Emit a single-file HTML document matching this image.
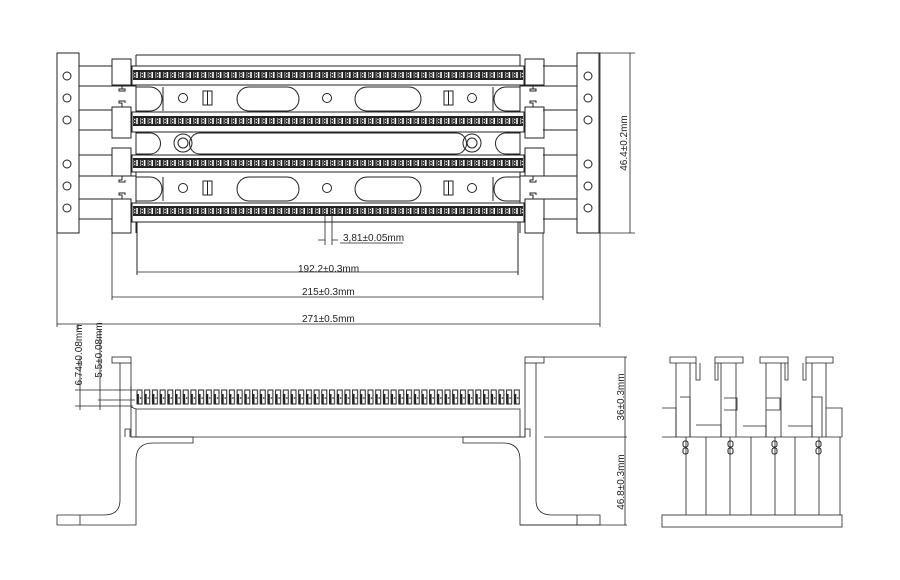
<!DOCTYPE html>
<html><head><meta charset="utf-8"><style>
html,body{margin:0;padding:0;background:#fff;}
svg{display:block;font-family:"Liberation Sans",sans-serif;}
</style></head><body>
<svg width="900" height="580" viewBox="0 0 900 580" xmlns="http://www.w3.org/2000/svg">
<defs>
<pattern id="teeth" x="0" y="0" width="7.6" height="10" patternUnits="userSpaceOnUse">
<rect width="7.6" height="10" fill="#fff"/>
<rect x="0" y="0" width="7.6" height="2" fill="#222"/>
<rect x="0" y="8" width="7.6" height="2" fill="#222"/>
<rect x="1" y="0" width="2.4" height="10" fill="#222"/>
<circle cx="5.5" cy="3.5" r="1.2" fill="none" stroke="#222" stroke-width="1"/>
<circle cx="5.5" cy="6.5" r="1.2" fill="none" stroke="#222" stroke-width="1"/>
</pattern>
<pattern id="steeth" x="0" y="0" width="7.7" height="20" patternUnits="userSpaceOnUse">
<rect width="7.7" height="20" fill="#fff"/>
<rect x="1" y="2" width="5" height="14" fill="none" stroke="#222" stroke-width="1"/>
<rect x="1" y="6" width="2" height="10" fill="#222"/>
<circle cx="4.5" cy="10" r="0.8" fill="#222"/>
</pattern>
</defs>
<g fill="none" stroke="#222" stroke-width="1">
<!-- TOP VIEW -->
<rect x="57" y="53" width="22" height="180"/>
<rect x="577" y="53" width="22" height="180"/>
<g>
<circle cx="67" cy="76" r="4"/><circle cx="67" cy="98" r="4"/><circle cx="67" cy="120" r="4"/>
<circle cx="67" cy="164" r="4"/><circle cx="67" cy="186" r="4"/><circle cx="67" cy="208" r="4"/>
<circle cx="588" cy="76" r="4"/><circle cx="588" cy="98" r="4"/><circle cx="588" cy="120" r="4"/>
<circle cx="588" cy="164" r="4"/><circle cx="588" cy="186" r="4"/><circle cx="588" cy="208" r="4"/>
</g>
<path d="M79 66H112M79 86H136M79 110H112M79 130H112M79 155H112M79 176H136M79 199H112M79 219H112"/>
<path d="M577 66H543M577 86H520M577 110H543M577 130H543M577 155H543M577 176H520M577 199H543M577 219H543"/>
<rect x="112" y="59" width="19" height="26"/><rect x="112" y="107" width="19" height="31"/>
<rect x="112" y="148" width="19" height="28"/><rect x="112" y="199" width="19" height="34"/>
<rect x="525" y="59" width="19" height="26"/><rect x="525" y="107" width="19" height="31"/>
<rect x="525" y="148" width="19" height="28"/><rect x="525" y="199" width="19" height="34"/>
<path d="M122 85v4h-3v2h6v-2h-3M122 107v-4h-3v-2h6v2M122 176v4h-3v2h6v-2M122 199v-4h-3v-2h6v2"/>
<path d="M533 85v4h-3v2h6v-2h-3M533 107v-4h-3v-2h6v2M533 176v4h-3v2h6v-2M533 199v-4h-3v-2h6v2"/>
<path d="M136 55H520V66M136 55V66"/>
<rect x="132" y="66" width="392" height="19"/>
<rect x="132" y="112" width="392" height="20"/>
<rect x="132" y="155" width="392" height="17"/>
<rect x="132" y="203" width="392" height="19"/>
<path d="M136 85V112M520 85V112M136 132V155M520 132V155M136 172V203M520 172V203"/>
<path d="M136 222V233M520 222V233M137 222V275M518 222V275"/>
<path d="M136 87h14a12 12 0 0 1 0 24h-14"/><path d="M163 87V111M493 87V111"/>
<path d="M520 87h-14a12 12 0 0 0 0 24h14"/>
<circle cx="183" cy="98" r="4.5"/><rect x="203" y="91" width="9" height="14"/><path d="M207.5 91v14"/>
<rect x="237" y="87" width="62" height="24" rx="12"/><circle cx="327" cy="98" r="4.5"/>
<rect x="355" y="87" width="66" height="24" rx="12"/>
<rect x="444" y="91" width="9" height="14"/><path d="M448.5 91v14"/><circle cx="472" cy="98" r="4.5"/>
<path d="M136 177h14a12 12 0 0 1 0 24h-14"/><path d="M163 177V201M493 177V201"/>
<path d="M520 177h-14a12 12 0 0 0 0 24h14"/>
<circle cx="183" cy="188" r="4.5"/><rect x="203" y="181" width="9" height="14"/><path d="M207.5 181v14"/>
<rect x="237" y="177" width="62" height="24" rx="12"/><circle cx="327" cy="188" r="4.5"/>
<rect x="355" y="177" width="66" height="24" rx="12"/>
<rect x="444" y="181" width="9" height="14"/><path d="M448.5 181v14"/><circle cx="472" cy="188" r="4.5"/>
<path d="M136 133h14a10 10 0 0 1 0 21h-14"/><path d="M520 133h-14a10 10 0 0 0 0 21h14"/>
<circle cx="183" cy="143" r="9"/><circle cx="183" cy="143" r="5"/>
<circle cx="472" cy="143" r="9"/><circle cx="472" cy="143" r="5"/>
<path d="M200 133a10 10 0 0 0 0 21M456 133a10 10 0 0 1 0 21M200 133H456M200 154H456"/>
</g>
<g transform="translate(0,70)"><rect x="133" y="0" width="390" height="10" fill="url(#teeth)"/></g>
<g transform="translate(0,116)"><rect x="133" y="0" width="390" height="10" fill="url(#teeth)"/></g>
<g transform="translate(0,158)"><rect x="133" y="0" width="390" height="10" fill="url(#teeth)"/></g>
<g transform="translate(0,206)"><rect x="133" y="0" width="390" height="10" fill="url(#teeth)"/></g>
<g fill="none" stroke="#222" stroke-width="0.8">
<path d="M599 53H635M599 233H635M600 53V327M630 53V233M57 233V327"/>
<path d="M112 233V300M543 233V300"/>
<path d="M137 272H518M112 297H543M57 324H600"/>
<path d="M325 214V245M332 214V245M318 240H325M332 240H338M340 243H403"/>
<path d="M80 357V410M100 330V410M75 390H140M98 400H135M75 406H133M78 324V330"/>
<rect x="112" y="357" width="19" height="6"/>
<path d="M120 363V500Q120 515 104 515H57V525H136V460Q136 443 153 443H193V437H131V363"/>
<path d="M80 515V525"/>
<path d="M125 437V429H130V437"/>
<path d="M131 386V407L136 409V437"/>
<path d="M136 409H520V437M131 437H525"/>
<rect x="525" y="357" width="19" height="6"/>
<path d="M536 363V500Q536 515 552 515H600V525H520V460Q520 443 503 443H463V437H525V363"/>
<path d="M577 515V525M525 437V429H530V437"/>
<path d="M544 357H627M544 437H627M520 525H627M625 357V525"/>
<rect x="662" y="515" width="180" height="12"/>
<path d="M686 437V515M706 437V515M730 437V515M751 437V515M775 437V515M795 437V515M819 437V515M840 437V515"/>
<path d="M662 437H842"/>
<path d="M670 357H696V363H670ZM715 357H743V363H715ZM760 357H788V363H760ZM806 357H833V363H806Z"/>
<path d="M676 363V437M690 363V437M721 363V437M736 363V437M766 363V437M781 363V437M812 363V437M826 363V437"/>
<path d="M680 397H690V437M812 397H822V437M724 398H737V410H724M766 398H780V410H766"/>
<path d="M662 408H676V437M826 408H842V437M696 425H721V437M743 426H766V437M788 426H812V437"/>
<path d="M696 363V380H700V363M715 363V380H718V363M785 363V380H788V363M803 363V380H806V363"/>
<g stroke-width="1">
<rect x="683" y="441" width="5" height="6" rx="2"/><rect x="683" y="448" width="5" height="6" rx="2"/>
<rect x="728" y="441" width="5" height="6" rx="2"/><rect x="728" y="448" width="5" height="6" rx="2"/>
<rect x="772" y="441" width="5" height="6" rx="2"/><rect x="772" y="448" width="5" height="6" rx="2"/>
<rect x="816" y="441" width="5" height="6" rx="2"/><rect x="816" y="448" width="5" height="6" rx="2"/>
</g>
</g>
<g transform="translate(136,388)"><rect x="0" y="0" width="384" height="20" fill="url(#steeth)"/></g>
<g fill="#222" font-size="10">
<text x="343" y="241">3,81±0.05mm</text>
<text x="298" y="272">192.2±0.3mm</text>
<text x="302" y="295">215±0.3mm</text>
<text x="302" y="322">271±0.5mm</text>
<text transform="translate(627,143) rotate(-90)" text-anchor="middle">46.4±0.2mm</text>
<text transform="translate(624,397) rotate(-90)" text-anchor="middle">36±0.3mm</text>
<text transform="translate(624,482) rotate(-90)" text-anchor="middle">46.8±0.3mm</text>
<text transform="translate(82,355) rotate(-90)" text-anchor="middle">6.74±0.08mm</text>
<text transform="translate(102,350) rotate(-90)" text-anchor="middle">5.5±0.08mm</text>
</g>
</svg>
</body></html>
